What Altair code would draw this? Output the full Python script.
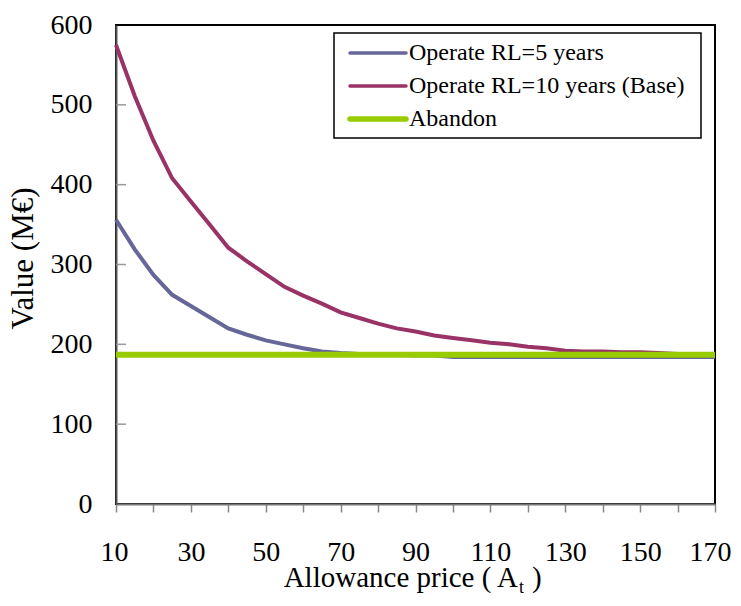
import altair as alt
import pandas as pd

# ---- data ----
price = [10, 15, 20, 25, 30, 35, 40, 45, 50, 55, 60, 65, 70, 75, 80, 85, 90,
         95, 100, 105, 110, 115, 120, 125, 130, 135, 140, 145, 150, 155, 160, 165, 170]
rl5 = [356, 319, 287, 262, 248, 234, 220, 212, 205, 200, 195, 191, 189, 188, 187, 187, 186,
       186, 184, 184, 184, 184, 184, 184, 184, 184, 184, 184, 184, 184, 184, 184, 184]
rl10 = [575, 511, 455, 408, 379, 350, 321, 304, 288, 272, 261, 251, 240, 233, 226, 220, 216,
        211, 208, 205, 202, 200, 197, 195, 192, 191, 191, 190, 190, 189, 188, 187, 187]
abandon_price = [10, 170]
abandon = [187, 187]

series_names = ["Operate RL=5 years", "Operate RL=10 years (Base)", "Abandon"]
series_colors = ["#666699", "#993366", "#99CC00"]
series_widths = [4, 4, 6]

x_ticks = list(range(10, 171, 10))
y_ticks = [0, 100, 200, 300, 400, 500, 600]
y_inner_ticks = [100, 200, 300, 400, 500]

rows = []
for p, v in zip(price, rl5):
    rows.append({"price": p, "value": v, "series": series_names[0]})
for p, v in zip(price, rl10):
    rows.append({"price": p, "value": v, "series": series_names[1]})
for p, v in zip(abandon_price, abandon):
    rows.append({"price": p, "value": v, "series": series_names[2]})
df = pd.DataFrame(rows)

FONT = "'Liberation Serif', 'Times New Roman', Times, serif"

x_enc = alt.X("price:Q",
              scale=alt.Scale(domain=[10, 170], nice=False, zero=False),
              axis=alt.Axis(values=x_ticks,
                            labelExpr="(datum.value - 10) % 20 == 0 ? datum.label : ''",
                            labelFlush=True, labelFlushOffset=16,
                            tickSize=8, tickColor="#888888", tickWidth=1.5,
                            domainColor="#777777", domainWidth=2,
                            labelFont=FONT, labelFontSize=28, labelColor="black",
                            labelPadding=26, grid=False, title=None,
                            labelOverlap=False))
y_enc = alt.Y("value:Q",
              scale=alt.Scale(domain=[0, 600], nice=False),
              axis=alt.Axis(values=y_ticks, ticks=False,
                            domainColor="#555555", domainWidth=2,
                            labelFont=FONT, labelFontSize=28, labelColor="black",
                            labelPadding=24, grid=False,
                            title="Value (M€)", titleFont=FONT, titleFontSize=31,
                            titleFontWeight="normal", titleColor="black",
                            titleX=-77, titleY=233))

layers = []
for name, col, w in zip(series_names, series_colors, series_widths):
    layers.append(
        alt.Chart(df).transform_filter(alt.datum.series == name)
        .mark_line(color=col, strokeWidth=w)
        .encode(x=x_enc, y=y_enc)
    )

inner_ticks = alt.Chart(pd.DataFrame({"value": y_inner_ticks})).mark_rule(
    color="#999999", strokeWidth=1.5
).encode(y=y_enc, x=alt.value(0), x2=alt.value(10))

one = pd.DataFrame({"a": [0]})

legend_box = alt.Chart(one).mark_rect(fill="white", stroke="black", strokeWidth=1.5).encode(
    x=alt.value(218), x2=alt.value(585), y=alt.value(8), y2=alt.value(113))
layers_legend = [legend_box]
for i, (name, col, w) in enumerate(zip(series_names, series_colors, series_widths)):
    yy = 28 + 33 * i
    layers_legend.append(
        alt.Chart(one).mark_rule(color=col, strokeWidth=w - 0.5 if w > 4 else 3.5, strokeCap="round").encode(
            x=alt.value(234), x2=alt.value(290), y=alt.value(yy)))
    layers_legend.append(
        alt.Chart(one).mark_text(align="left", baseline="middle", font=FONT, fontSize=24,
                                 color="black").encode(
            x=alt.value(293), y=alt.value(yy), text=alt.value(name)))

xt_main = alt.Chart(one).mark_text(align="right", baseline="alphabetic", font=FONT,
                                   fontSize=29, color="black").encode(
    x=alt.value(402), y=alt.value(562), text=alt.value("Allowance price ( A"))
xt_sub = alt.Chart(one).mark_text(align="left", baseline="alphabetic", font=FONT,
                                  fontSize=18, color="black").encode(
    x=alt.value(403), y=alt.value(568), text=alt.value("t"))
xt_end = alt.Chart(one).mark_text(align="left", baseline="alphabetic", font=FONT,
                                  fontSize=29, color="black").encode(
    x=alt.value(416), y=alt.value(562), text=alt.value(")"))

chart = alt.layer(*layers, inner_ticks, *layers_legend, xt_main, xt_sub, xt_end).properties(
    width=599, height=479,
    padding={"left": 108, "top": 17, "right": 18, "bottom": 94},
    autosize="none",
    background="white",
).configure_view(stroke="black", strokeWidth=2)

chart.save("out.html", embed_options={"renderer": "svg", "actions": False})
